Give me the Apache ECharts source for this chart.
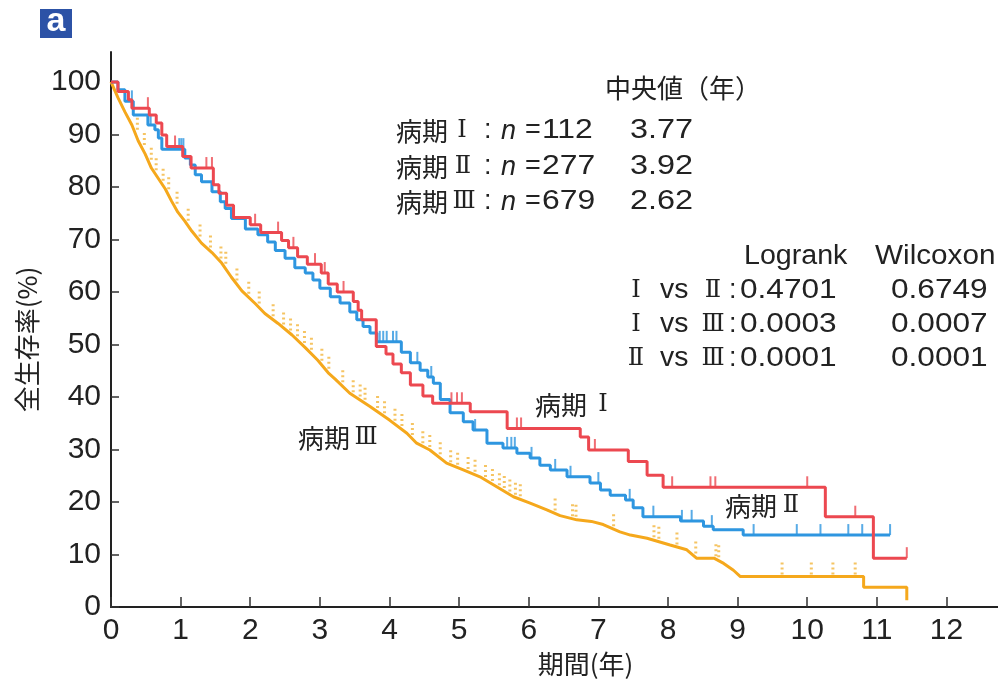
<!DOCTYPE html>
<html>
<head>
<meta charset="utf-8">
<script src="https://cdn.jsdelivr.net/npm/echarts@6.0.0/dist/echarts.min.js"></script>
<style>
  html, body { margin: 0; padding: 0; background: #fff; }
  #chart { width: 998px; height: 684px; }
</style>
</head>
<body>
<div id="chart"></div>
<script>
// 病期別 全生存率（Kaplan-Meier）
const xTicks = [0, 1, 2, 3, 4, 5, 6, 7, 8, 9, 10, 11, 12];
const yTicks = [0, 10, 20, 30, 40, 50, 60, 70, 80, 90, 100];

// [年, 生存率%]
const stage1Curve = [
  [0, 100], [0.1, 98.2], [0.25, 96.6], [0.3, 95.0], [0.55, 93.7], [0.65, 92.2],
  [0.73, 89.9], [0.8, 87.7], [1.03, 85.8], [1.15, 83.6], [1.47, 80.4], [1.55, 78.8],
  [1.66, 76.5], [1.76, 74.2], [2.0, 72.8], [2.15, 71.3], [2.45, 69.8], [2.55, 68.4],
  [2.68, 66.7], [2.82, 65.3], [3.02, 63.6], [3.12, 61.5], [3.25, 60.0], [3.48, 58.2],
  [3.55, 56.5], [3.6, 54.7], [3.81, 49.6], [3.95, 48.2], [4.05, 46.3], [4.17, 44.6],
  [4.3, 42.3], [4.48, 40.2], [4.62, 38.8], [5.16, 37.2], [5.69, 34.0], [6.74, 32.4],
  [6.86, 29.9], [7.43, 27.7], [7.7, 25.1], [7.93, 22.8], [10.26, 17.2], [10.95, 9.3],
  [11.43, 9.3]
];
const stage1Censor = [
  [0.53, 95.0], [0.92, 87.7], [1.37, 83.6], [1.45, 83.6], [2.07, 72.8], [2.4, 71.3],
  [2.62, 68.4], [2.93, 65.3], [3.07, 63.6], [3.34, 60.0], [4.89, 38.8], [4.97, 38.8],
  [5.04, 38.8], [5.83, 34.0], [5.89, 34.0], [6.95, 29.9], [8.06, 22.8], [8.61, 22.8],
  [8.68, 22.8], [10.0, 22.8], [10.69, 17.2], [11.43, 9.3]
];

const stage2Curve = [
  [0, 100], [0.1, 98.5], [0.2, 96.3], [0.32, 93.7], [0.53, 91.8], [0.63, 90.9],
  [0.68, 89.3], [0.73, 87.2], [1.06, 85.5], [1.14, 84.2], [1.21, 82.3], [1.3, 81.0],
  [1.45, 79.1], [1.57, 77.2], [1.64, 75.9], [1.73, 74.0], [1.93, 72.0], [2.11, 70.9],
  [2.25, 69.5], [2.36, 67.9], [2.5, 66.4], [2.64, 64.6], [2.79, 63.6], [2.9, 62.3],
  [3.0, 60.7], [3.15, 59.1], [3.29, 57.9], [3.43, 56.2], [3.53, 54.7], [3.62, 53.4],
  [3.72, 52.2], [3.82, 50.5], [4.17, 48.5], [4.3, 46.5], [4.44, 45.1], [4.55, 43.8],
  [4.63, 42.6], [4.73, 39.5], [4.87, 37.0], [5.06, 35.3], [5.2, 33.7], [5.4, 31.2],
  [5.63, 30.3], [5.83, 29.3], [6.02, 28.4], [6.16, 27.0], [6.31, 26.1], [6.55, 24.8],
  [6.88, 23.6], [7.03, 22.3], [7.17, 21.3], [7.39, 20.4], [7.5, 18.9], [7.64, 17.2],
  [8.18, 16.4], [8.51, 15.4], [8.65, 14.7], [9.08, 13.7], [11.19, 13.7]
];
const stage2Censor = [
  [0.3, 96.3], [0.57, 91.8], [0.98, 87.2], [1.01, 87.2], [1.04, 87.2], [1.75, 74.0],
  [3.86, 50.5], [3.91, 50.5], [3.96, 50.5], [4.05, 50.5], [4.1, 50.5], [4.4, 46.5],
  [4.6, 43.8], [5.23, 33.7], [5.69, 30.3], [5.75, 30.3], [5.8, 30.3], [6.04, 28.4],
  [6.38, 26.1], [6.6, 24.8], [7.0, 23.6], [7.45, 20.4], [7.79, 17.2], [8.2, 16.4],
  [8.34, 16.4], [8.63, 15.4], [9.23, 13.7], [9.85, 13.7], [10.19, 13.7], [10.59, 13.7],
  [10.79, 13.7], [11.19, 13.7]
];

const stage3Curve = [
  [0, 100], [0.1, 97.0], [0.2, 94.3], [0.3, 91.8], [0.39, 88.8], [0.49, 86.3],
  [0.58, 83.6], [0.68, 81.6], [0.78, 79.6], [0.87, 77.3], [0.96, 75.2], [1.06, 73.5],
  [1.16, 71.6], [1.3, 69.3], [1.45, 67.5], [1.59, 65.5], [1.73, 62.8], [1.88, 60.2],
  [2.07, 57.8], [2.21, 55.9], [2.4, 54.0], [2.6, 51.8], [2.79, 49.4], [2.97, 47.0],
  [3.12, 44.6], [3.22, 43.4], [3.43, 40.7], [3.72, 38.2], [4.0, 35.6], [4.25, 33.1],
  [4.39, 31.2], [4.58, 29.9], [4.82, 27.4], [5.06, 26.1], [5.3, 24.8], [5.54, 22.9],
  [5.78, 21.0], [6.02, 19.8], [6.26, 18.5], [6.45, 17.4], [6.69, 16.6], [6.9, 16.3],
  [7.07, 15.7], [7.31, 14.3], [7.46, 13.7], [7.7, 13.1], [8.03, 11.8], [8.27, 10.9],
  [8.41, 9.3], [8.66, 9.3], [8.8, 8.3], [8.94, 7.0], [9.04, 5.8], [10.81, 5.8],
  [10.81, 3.75], [11.43, 3.75], [11.43, 1.3]
];
const stage3Censor = [
  [0.35, 90.5], [0.45, 87.6], [0.55, 84.8], [0.62, 82.8], [0.72, 80.8], [0.8, 79.2],
  [0.92, 76.4], [1.08, 73.2], [1.25, 70.2], [1.4, 68.1], [1.55, 66.0], [1.62, 65.0],
  [1.78, 61.8], [1.95, 59.3], [2.1, 57.4], [2.3, 55.0], [2.45, 53.4], [2.55, 52.3],
  [2.65, 51.2], [2.75, 49.9], [2.85, 48.6], [3.0, 46.5], [3.1, 45.0], [3.3, 42.4],
  [3.45, 40.5], [3.55, 39.7], [3.62, 39.1], [3.8, 37.5], [3.9, 36.5], [4.05, 35.1],
  [4.15, 34.1], [4.3, 32.4], [4.45, 30.8], [4.55, 30.1], [4.7, 28.7], [4.85, 27.2],
  [4.95, 26.7], [5.1, 25.9], [5.2, 25.4], [5.35, 24.4], [5.45, 23.6], [5.55, 22.8],
  [5.62, 22.3], [5.7, 21.6], [5.78, 21.0], [5.85, 20.7], [6.35, 18.0], [6.6, 16.9],
  [6.65, 16.8], [7.19, 15.0], [7.77, 12.9], [7.84, 12.6], [8.1, 11.5], [8.37, 9.8],
  [8.66, 9.3], [8.7, 9.1], [9.61, 5.8], [10.03, 5.8], [10.34, 5.8], [10.66, 5.8]
];

const RED = '#ec4850';
const BLUE = '#2e96e0';
const ORANGE = '#f5a81c';
const CJK = '"Noto Sans CJK JP", sans-serif';
const ROMAN = '"DejaVu Serif", "Noto Sans CJK JP", serif';
const SANS = '"Liberation Sans", Arial, sans-serif';

function txt(x, y, text, size, family, opts) {
  opts = opts || {};
  return {
    type: 'text', x: x, y: y, z: 10,
    scaleX: opts.sx || 1,
    style: {
      text: text,
      fill: '#222',
      fontSize: size,
      fontFamily: family,
      fontStyle: opts.italic ? 'italic' : 'normal',
      textAlign: opts.align || 'left',
      textVerticalAlign: 'middle'
    }
  };
}

const graphics = [
  { type: 'rect', shape: { x: 40, y: 9, width: 32, height: 29 }, style: { fill: '#2c52a6' } },
  { type: 'text', x: 56, y: 22, style: { text: 'a', fill: '#fff', fontSize: 34, fontWeight: 'bold', fontFamily: SANS, textAlign: 'center', textVerticalAlign: 'middle' } },

  txt(605, 88, '中央値（年）', 26, CJK),
  txt(396, 131, '病期', 26, CJK),
  txt(396, 167, '病期', 26, CJK),
  txt(396, 202, '病期', 26, CJK),
  txt(462, 131, 'Ⅰ', 24, ROMAN, { align: 'center' }),
  txt(463, 167, 'Ⅱ', 24, ROMAN, { align: 'center' }),
  txt(464, 202, 'Ⅲ', 24, ROMAN, { align: 'center' }),
  txt(484, 131, ':', 27, SANS),
  txt(484, 167, ':', 27, SANS),
  txt(484, 202, ':', 27, SANS),
  txt(501, 131, 'n', 27, SANS, { italic: true }),
  txt(501, 167, 'n', 27, SANS, { italic: true }),
  txt(501, 202, 'n', 27, SANS, { italic: true }),
  txt(525, 131, '=', 27, SANS),
  txt(525, 167, '=', 27, SANS),
  txt(525, 202, '=', 27, SANS),
  txt(542, 131, '112', 27, SANS, { sx: 1.18 }),
  txt(542, 167, '277', 27, SANS, { sx: 1.18 }),
  txt(542, 202, '679', 27, SANS, { sx: 1.18 }),
  txt(630, 131, '3.77', 27, SANS, { sx: 1.2 }),
  txt(630, 167, '3.92', 27, SANS, { sx: 1.2 }),
  txt(630, 202, '2.62', 27, SANS, { sx: 1.2 }),

  txt(744, 257, 'Logrank', 27, SANS, { sx: 1.06 }),
  txt(875, 257, 'Wilcoxon', 27, SANS, { sx: 1.1 }),
  txt(636, 291, 'Ⅰ', 24, ROMAN, { align: 'center' }),
  txt(636, 325, 'Ⅰ', 24, ROMAN, { align: 'center' }),
  txt(636, 359, 'Ⅱ', 24, ROMAN, { align: 'center' }),
  txt(660, 291, 'vs', 27, SANS, { sx: 1.05 }),
  txt(660, 325, 'vs', 27, SANS, { sx: 1.05 }),
  txt(660, 359, 'vs', 27, SANS, { sx: 1.05 }),
  txt(713, 291, 'Ⅱ', 24, ROMAN, { align: 'center' }),
  txt(713, 325, 'Ⅲ', 24, ROMAN, { align: 'center' }),
  txt(713, 359, 'Ⅲ', 24, ROMAN, { align: 'center' }),
  txt(729, 291, ':', 27, SANS),
  txt(729, 325, ':', 27, SANS),
  txt(729, 359, ':', 27, SANS),
  txt(740, 291, '0.4701', 27, SANS, { sx: 1.17 }),
  txt(740, 325, '0.0003', 27, SANS, { sx: 1.17 }),
  txt(740, 359, '0.0001', 27, SANS, { sx: 1.17 }),
  txt(891, 291, '0.6749', 27, SANS, { sx: 1.17 }),
  txt(891, 325, '0.0007', 27, SANS, { sx: 1.17 }),
  txt(891, 359, '0.0001', 27, SANS, { sx: 1.17 }),

  txt(535, 405, '病期', 26, CJK),
  txt(603, 405, 'Ⅰ', 24, ROMAN, { align: 'center' }),
  txt(725, 506, '病期', 26, CJK),
  txt(791, 506, 'Ⅱ', 24, ROMAN, { align: 'center' }),
  txt(298, 438, '病期', 26, CJK),
  txt(366, 438, 'Ⅲ', 24, ROMAN, { align: 'center' })
];

const chart = echarts.init(document.getElementById('chart'));
chart.setOption({
  animation: false,
  backgroundColor: '#fff',
  grid: { left: 111, right: 0, top: 52, bottom: 77, outerBoundsMode: 'none' },
  xAxis: {
    type: 'value', min: 0, max: 12.74, interval: 1,
    name: '期間(年)', nameLocation: 'middle', nameGap: 40,
    nameTextStyle: { fontSize: 26, fontFamily: CJK, color: '#222', padding: [0, 0, 0, 62] },
    axisLine: { lineStyle: { color: '#222', width: 2 } },
    axisTick: { inside: true, length: 10, customValues: xTicks, lineStyle: { color: '#333', width: 1.5 } },
    axisLabel: { customValues: xTicks, margin: 9, fontSize: 30, fontFamily: SANS, color: '#222' },
    splitLine: { show: false }
  },
  yAxis: {
    type: 'value', min: 0, max: 105.7, interval: 10,
    name: '全生存率(%)', nameLocation: 'middle', nameRotate: 90, nameGap: 66,
    nameTextStyle: { fontSize: 26, fontFamily: CJK, color: '#222', padding: [0, 20, 0, 0] },
    axisLine: { show: true, lineStyle: { color: '#222', width: 2 } },
    axisTick: { show: true, inside: true, length: 8, customValues: yTicks, lineStyle: { color: '#333', width: 1.5 } },
    axisLabel: { customValues: yTicks, margin: 10, fontSize: 30, fontFamily: SANS, color: '#222' },
    splitLine: { show: false }
  },
  graphic: graphics,
  series: [
    {
      name: '病期Ⅲ', type: 'line', data: stage3Curve, showSymbol: false, z: 2,
      lineStyle: { color: ORANGE, width: 3 }
    },
    {
      name: '病期Ⅲ censor', type: 'scatter', data: stage3Censor, z: 3,
      symbol: 'path://M0,0h2v2h-2z M0,5h2v2h-2z M0,10h2v2h-2z',
      symbolSize: [3, 12], symbolOffset: [2, -8],
      itemStyle: { color: '#f2b53c' }
    },
    {
      name: '病期Ⅱ', type: 'line', step: 'end', data: stage2Curve, showSymbol: false, z: 4,
      lineStyle: { color: BLUE, width: 3 }
    },
    {
      name: '病期Ⅱ censor', type: 'scatter', data: stage2Censor, z: 5,
      symbol: 'rect', symbolSize: [2, 11], symbolOffset: [0, -5.5],
      itemStyle: { color: BLUE }
    },
    {
      name: '病期Ⅰ', type: 'line', step: 'end', data: stage1Curve, showSymbol: false, z: 6,
      lineStyle: { color: RED, width: 3 }
    },
    {
      name: '病期Ⅰ censor', type: 'scatter', data: stage1Censor, z: 7,
      symbol: 'rect', symbolSize: [2, 11], symbolOffset: [0, -5.5],
      itemStyle: { color: RED }
    }
  ]
});
window.addEventListener('resize', () => chart.resize());
</script>
</body>
</html>
